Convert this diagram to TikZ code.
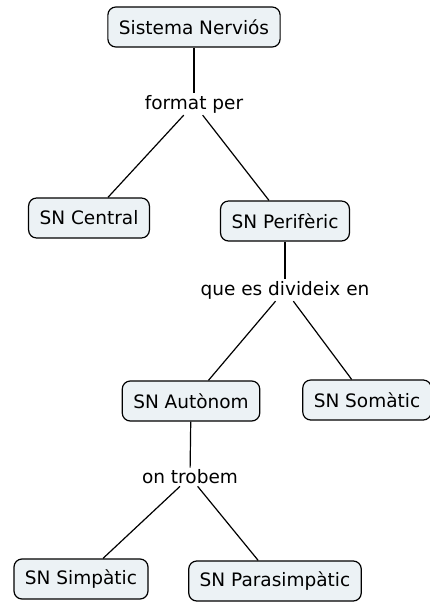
\documentclass[tikz,border=0pt]{standalone}
\usepackage{fontspec}
\setmainfont{DejaVu Sans}
\definecolor{mygray1}{RGB}{236,242,245}

\begin{document}
\begin{tikzpicture}[
        x=1pt,
        y=-1pt,
        box/.style={
            draw,
            rectangle,
            rounded corners=8pt,
            minimum height=40pt,
            inner xsep=11pt,
            line width=1.2pt,
            font=\fontsize{18.5}{20}\selectfont,
        },
        link/.style={
            inner sep=2pt,
            font=\fontsize{18.5}{20}\selectfont,
        },
        marked/.style={
            fill=mygray1,
        },
    ]
    \useasboundingbox (0, 0) rectangle (430, 603);

    \node[box, marked] (sn)  at (194, 27)  {Sistema Nerviós};
    \node[box, marked] (cen) at (89, 218)  {SN Central};
    \node[box, marked] (per) at (285, 221) {SN Perifèric};
    \node[box, marked] (aut) at (191, 401) {SN Autònom};
    \node[box, marked] (som) at (367, 400) {SN Somàtic};
    \node[box, marked] (sim) at (81, 579)  {SN Simpàtic};
    \node[box, marked] (par) at (275, 581) {SN Parasimpàtic};

    \node[link] (f0) at (194, 104) {format per};
    \node[link] (f1) at (285, 290) {que es divideix en};
    \node[link] (f2) at (190, 477) {on trobem};

    \begin{scope}[line width=1.2pt]
        \draw (sn) -- (f0);
        \draw (f0) -- (cen);
        \draw (f0) -- (per);
        \draw (per) -- (f1);
        \draw (f1) -- (aut);
        \draw (f1) -- (som);
        \draw (aut) -- (f2);
        \draw (f2) -- (sim);
        \draw (f2) -- (par);
    \end{scope}
\end{tikzpicture}
\end{document}
